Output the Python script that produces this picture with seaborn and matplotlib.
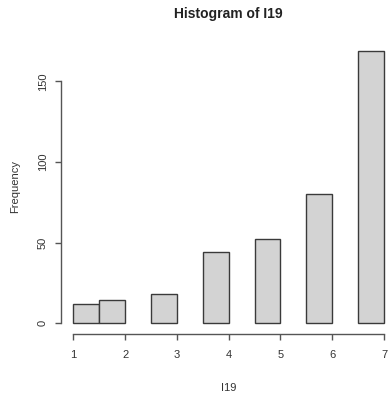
import numpy as np
import pandas as pd
import matplotlib
matplotlib.use("Agg")
import matplotlib.pyplot as plt
import seaborn as sns

# Response levels of item I19 and how many answers fall on each
levels = [1, 2, 3, 4, 5, 6, 7]
counts = [12, 14, 18, 44, 52, 80, 169]
bin_edges = [1.0, 1.5, 2.0, 2.5, 3.0, 3.5, 4.0, 4.5, 5.0, 5.5, 6.0, 6.5, 7.0]
x_ticks = [1, 2, 3, 4, 5, 6, 7]
y_ticks = [0, 50, 100, 150]

# Right-closed bins (lowest bin includes its left edge): level k falls in (k-0.5, k]
positions = [1.25 if lv == 1 else lv - 0.25 for lv in levels]
df = pd.DataFrame({"I19": positions, "n": counts})

sns.set_style("white")
plt.rcParams["font.family"] = ["Liberation Sans", "DejaVu Sans"]

fig = plt.figure(figsize=(3.88, 3.94), dpi=100)
ax_left, ax_width = 0.157, 0.8647
ax = fig.add_axes([ax_left, 0.1525, ax_width, 0.746])

sns.histplot(data=df, x="I19", weights="n", bins=bin_edges, ax=ax,
             color="#D3D3D3", alpha=1.0, edgecolor="#3a3a3a", linewidth=1.0)
for p in ax.patches:
    if p.get_height() == 0:
        p.set_linewidth(0)

ymax = max(counts)
ax.set_xlim(1 - 0.04 * 6, 7 + 0.04 * 6)
ax.set_ylim(-0.04 * ymax, ymax * 1.04)

for s in ["top", "right"]:
    ax.spines[s].set_visible(False)
for s in ["left", "bottom"]:
    ax.spines[s].set_color("#555555")
    ax.spines[s].set_linewidth(1.0)
ax.spines["left"].set_bounds(y_ticks[0], y_ticks[-1])
ax.spines["bottom"].set_bounds(x_ticks[0], x_ticks[-1])

ax.set_xticks(x_ticks)
ax.set_yticks(y_ticks)
ax.set_yticklabels([str(v) for v in y_ticks], rotation=90, va="center")
ax.tick_params(axis="both", bottom=True, left=True, direction="out",
               length=4.3, width=1.0, color="#555555", labelsize=8,
               labelcolor="#333333")
ax.tick_params(axis="x", pad=7.5)
ax.tick_params(axis="y", pad=5)

ax.set_xlabel("I19", fontsize=8, color="#333333", labelpad=16)
ax.set_ylabel("Frequency", fontsize=8, color="#333333", labelpad=13)
ax.grid(False)

fig.text(ax_left + ax_width / 2, 0.965, "Histogram of I19",
         ha="center", va="center", fontsize=10, fontweight="bold", color="#222222")

fig.savefig("out.png", dpi=100)
